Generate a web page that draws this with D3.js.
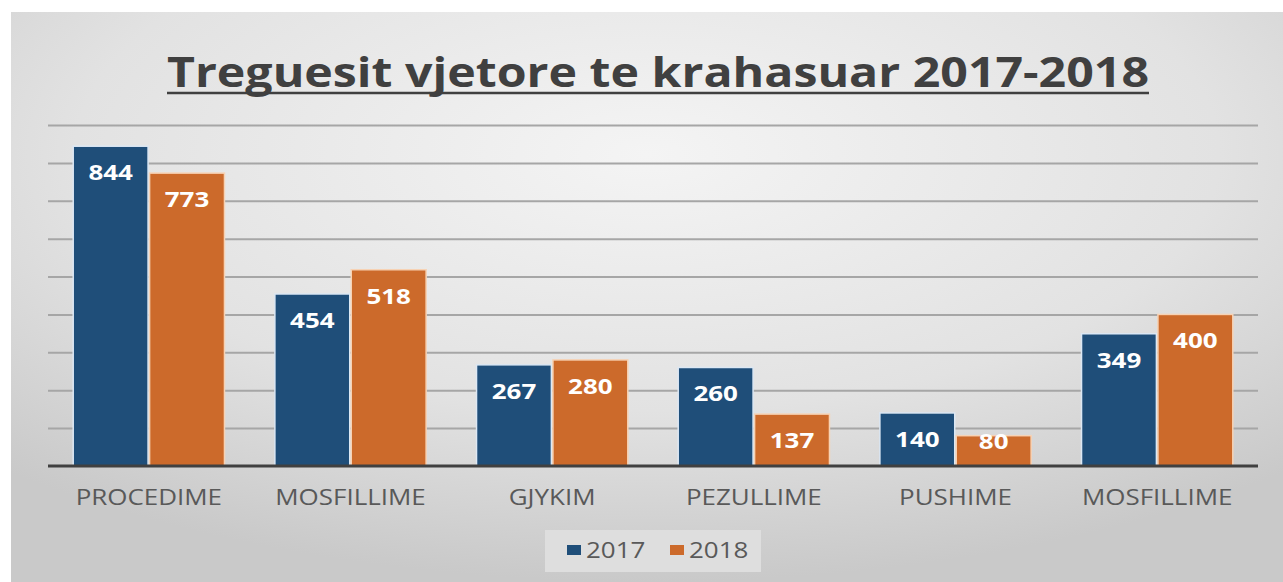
<!DOCTYPE html>
<html>
<head>
<meta charset="utf-8">
<script src="https://cdn.jsdelivr.net/npm/d3@7"></script>
<style>
body { margin: 0; background: #fff; }
svg { display: block; }
</style>
</head>
<body>
<div id="chart"></div>
<script>
var categories = ["PROCEDIME", "MOSFILLIME", "GJYKIM", "PEZULLIME", "PUSHIME", "MOSFILLIME "],
	series = ["2017", "2018"],
	values2017 = [844, 454, 267, 260, 140, 349],
	values2018 = [773, 518, 280, 137, 80, 400],
	yTicks = [100, 200, 300, 400, 500, 600, 700, 800, 900];

var W = 1283, H = 582,
	margin = {top: 125, left: 48, right: 25, bottom: 116},
	stretch = 1.18,
	colors = {"2017": "#1f4e79", "2018": "#cc6a2b"};

var svg = d3.select("#chart").append("svg")
	.attr("width", W)
	.attr("height", H);

var defs = svg.append("defs");
var grad = defs.append("radialGradient")
	.attr("id", "bg")
	.attr("cx", "50%").attr("cy", "25%")
	.attr("r", "75%");
grad.append("stop").attr("offset", "0%").attr("stop-color", "#f4f4f4");
grad.append("stop").attr("offset", "60%").attr("stop-color", "#e2e2e2");
grad.append("stop").attr("offset", "100%").attr("stop-color", "#c9c9c9");

svg.append("rect")
	.attr("x", 11).attr("y", 12)
	.attr("width", W - 11).attr("height", H - 12)
	.attr("fill", "url(#bg)");

var x0 = d3.scaleBand()
	.domain(d3.range(categories.length))
	.range([margin.left, W - margin.right])
	.paddingInner(0.25)
	.paddingOuter(0.125);

var x1 = d3.scaleBand()
	.domain(series)
	.range([0, x0.bandwidth()])
	.paddingInner(0.02);

var y = d3.scaleLinear()
	.domain([0, 900])
	.range([H - margin.bottom, margin.top]);

// gridlines
var yAxis = d3.axisLeft(y)
	.tickValues(yTicks)
	.tickSize(-(W - margin.right - margin.left))
	.tickFormat("");

svg.append("g")
	.attr("class", "grid")
	.attr("transform", "translate(" + margin.left + ",0)")
	.call(yAxis)
	.call(function(g) {
		g.select(".domain").remove();
		g.selectAll("line").attr("stroke", "#a6a6a6").attr("stroke-width", 2);
	});

// bars
var groups = svg.append("g").selectAll("g")
	.data(categories)
	.enter().append("g")
	.attr("transform", function(d, i) { return "translate(" + x0(i) + ",0)"; });

var bars = groups.selectAll("g.bar")
	.data(function(d, i) {
		return [
			{s: "2017", v: values2017[i]},
			{s: "2018", v: values2018[i]}
		];
	})
	.enter().append("g")
	.attr("class", "bar");

bars.append("rect")
	.attr("x", function(d) { return x1(d.s); })
	.attr("y", function(d) { return y(d.v); })
	.attr("width", x1.bandwidth())
	.attr("height", function(d) { return y(0) - y(d.v); })
	.attr("fill", function(d) { return colors[d.s]; })
	.attr("stroke", function(d) { return d.s == "2017" ? "#dce8f4" : "#f7d2b4"; })
	.attr("stroke-width", 1.5);

// value labels, inside end (pushed up when the bar is too short)
bars.append("text")
	.attr("transform", function(d) {
		var cy = Math.min(y(d.v) + 26, y(0) - 25);
		return "translate(" + (x1(d.s) + x1.bandwidth() / 2) + "," + (cy + 8) + ") scale(" + stretch + ",1)";
	})
	.attr("text-anchor", "middle")
	.attr("fill", "#ffffff")
	.style("font-family", "'Open Sans', sans-serif")
	.style("font-weight", "bold")
	.style("font-size", "22px")
	.text(function(d) { return d.v; });

// baseline
svg.append("line")
	.attr("x1", margin.left)
	.attr("x2", W - margin.right)
	.attr("y1", y(0))
	.attr("y2", y(0))
	.attr("stroke", "#404040")
	.attr("stroke-width", 3);

// category labels
var xAxis = d3.axisBottom(x0)
	.tickSize(0)
	.tickFormat(function(i) { return categories[i].trim(); });

svg.append("g")
	.attr("transform", "translate(0," + y(0) + ")")
	.call(xAxis)
	.call(function(g) {
		g.select(".domain").remove();
		g.selectAll("text")
			.attr("y", 0)
			.attr("dy", null)
			.attr("transform", "translate(0,39) scale(" + stretch + ",1)")
			.attr("fill", "#595959")
			.style("font-family", "'Open Sans', sans-serif")
			.style("font-size", "22px");
	});

// title
svg.append("text")
	.attr("x", 658)
	.attr("y", 87)
	.attr("text-anchor", "middle")
	.attr("fill", "#404040")
	.attr("textLength", 982)
	.attr("lengthAdjust", "spacingAndGlyphs")
	.style("font-family", "'Open Sans', sans-serif")
	.style("font-weight", "bold")
	.style("font-size", "42px")
	.text("Treguesit vjetore te krahasuar 2017-2018");

svg.append("line")
	.attr("x1", 167).attr("x2", 1149)
	.attr("y1", 93).attr("y2", 93)
	.attr("stroke", "#404040")
	.attr("stroke-width", 2.5);

// legend
var legend = svg.append("g");
legend.append("rect")
	.attr("x", 545).attr("y", 530)
	.attr("width", 216).attr("height", 42)
	.attr("fill", "#dedede");

var legendX = [567, 670];
series.forEach(function(s, i) {
	legend.append("rect")
		.attr("x", legendX[i])
		.attr("y", 545)
		.attr("width", 14).attr("height", 10)
		.attr("fill", colors[s]);
	legend.append("text")
		.attr("transform", "translate(" + (legendX[i] + 19) + ",558) scale(" + stretch + ",1)")
		.attr("fill", "#595959")
		.style("font-family", "'Open Sans', sans-serif")
		.style("font-size", "22px")
		.text(s);
});
</script>
</body>
</html>
